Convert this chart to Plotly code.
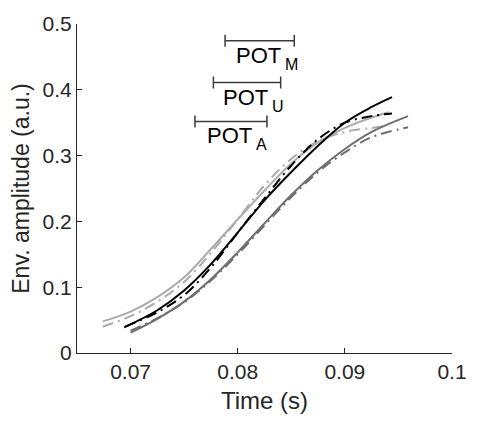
import plotly.graph_objects as go

# ---- data ----
k_t = [0.0694, 0.0725, 0.0750, 0.0775, 0.0800, 0.0825, 0.0850, 0.0875, 0.0900, 0.0925, 0.0944]
k_v = [0.039, 0.065, 0.095, 0.135, 0.183, 0.232, 0.275, 0.315, 0.350, 0.374, 0.389]

kd_t = [0.0695, 0.0725, 0.0750, 0.0775, 0.0800, 0.0825, 0.0850, 0.0875, 0.0900, 0.0925, 0.0944]
kd_v = [0.040, 0.062, 0.088, 0.130, 0.183, 0.235, 0.285, 0.325, 0.350, 0.360, 0.364]

l_t = [0.0674, 0.0700, 0.0725, 0.0750, 0.0775, 0.0800, 0.0825, 0.0850, 0.0875, 0.0900, 0.0925, 0.0941]
l_v = [0.048, 0.063, 0.085, 0.115, 0.158, 0.203, 0.247, 0.288, 0.320, 0.342, 0.358, 0.366]

ld_t = [0.0674, 0.0700, 0.0725, 0.0750, 0.0775, 0.0800, 0.0825, 0.0850, 0.0875, 0.0900, 0.0925, 0.0940]
ld_v = [0.040, 0.056, 0.078, 0.108, 0.152, 0.203, 0.255, 0.295, 0.322, 0.336, 0.342, 0.345]

d_t = [0.0700, 0.0725, 0.0750, 0.0775, 0.0800, 0.0825, 0.0850, 0.0875, 0.0900, 0.0925, 0.0959]
d_v = [0.031, 0.052, 0.078, 0.112, 0.153, 0.197, 0.240, 0.278, 0.310, 0.336, 0.360]

dd_t = [0.0700, 0.0725, 0.0750, 0.0775, 0.0800, 0.0825, 0.0850, 0.0875, 0.0900, 0.0925, 0.0959]
dd_v = [0.034, 0.053, 0.077, 0.110, 0.150, 0.194, 0.237, 0.275, 0.305, 0.328, 0.343]

pot_labels = ["M", "U", "A"]
pot_center = [0.08205, 0.08087, 0.07937]
pot_half = [0.00323, 0.00314, 0.00336]
pot_y = [0.4746, 0.411, 0.352]

x_ticks = [0.07, 0.08, 0.09, 0.1]
x_ticklabels = ["0.07", "0.08", "0.09", "0.1"]
y_ticks = [0, 0.1, 0.2, 0.3, 0.4, 0.5]
y_ticklabels = ["0", "0.1", "0.2", "0.3", "0.4", "0.5"]

BLACK = "#000000"
LIGHT = "#ababab"
DARK = "#6e6e6e"
DASHDOT = "11px,5px,2px,5px"
AX = "#262626"
FONT = "Liberation Sans, Arial, sans-serif"

fig = go.Figure()

series = [
    (l_t, l_v, LIGHT, "solid"),
    (ld_t, ld_v, LIGHT, DASHDOT),
    (d_t, d_v, DARK, "solid"),
    (dd_t, dd_v, DARK, DASHDOT),
    (k_t, k_v, BLACK, "solid"),
    (kd_t, kd_v, BLACK, DASHDOT),
]
for t, v, c, dash in series:
    fig.add_trace(go.Scatter(x=t, y=v, mode="lines",
                             line=dict(color=c, width=2, dash=dash, shape="spline", smoothing=1.0),
                             showlegend=False, hoverinfo="skip"))

fig.add_trace(go.Scatter(
    x=pot_center, y=pot_y, mode="markers",
    marker=dict(size=1, color="rgba(0,0,0,0)"),
    error_x=dict(type="data", array=pot_half, symmetric=True,
                 color="#3c3c3c", thickness=1.5, width=6),
    showlegend=False, hoverinfo="skip"))

for lab, cx, cy in zip(pot_labels, pot_center, pot_y):
    fig.add_annotation(x=cx, y=cy, xref="x", yref="y", text="POT",
                       showarrow=False, xanchor="left", yanchor="top",
                       xshift=-26, yshift=0,
                       font=dict(family=FONT, size=22, color="#000000"))
    fig.add_annotation(x=cx, y=cy, xref="x", yref="y", text=lab,
                       showarrow=False, xanchor="left", yanchor="top",
                       xshift=23, yshift=-13,
                       font=dict(family=FONT, size=16, color="#000000"))

fig.update_xaxes(range=[0.065, 0.1], tickvals=x_ticks, ticktext=x_ticklabels,
                 showline=True, linecolor=AX, linewidth=1, mirror=False,
                 ticks="inside", ticklen=5, tickcolor=AX, showgrid=False, zeroline=False,
                 tickfont=dict(family=FONT, size=21, color=AX),
                 title=dict(text="Time (s)", font=dict(family=FONT, size=24, color=AX), standoff=9))
fig.update_yaxes(range=[0, 0.5], tickvals=y_ticks, ticktext=y_ticklabels,
                 showline=True, linecolor=AX, linewidth=1, mirror=False,
                 ticks="inside", ticklen=5, tickcolor=AX, showgrid=False, zeroline=False,
                 tickfont=dict(family=FONT, size=21, color=AX),
                 title=dict(text="Env. amplitude (a.u.)", font=dict(family=FONT, size=23, color=AX), standoff=6))

fig.update_layout(width=479, height=421, margin=dict(l=77, r=16, t=20, b=67),
                  plot_bgcolor="white", paper_bgcolor="white", showlegend=False)

fig.write_html("out.html")
